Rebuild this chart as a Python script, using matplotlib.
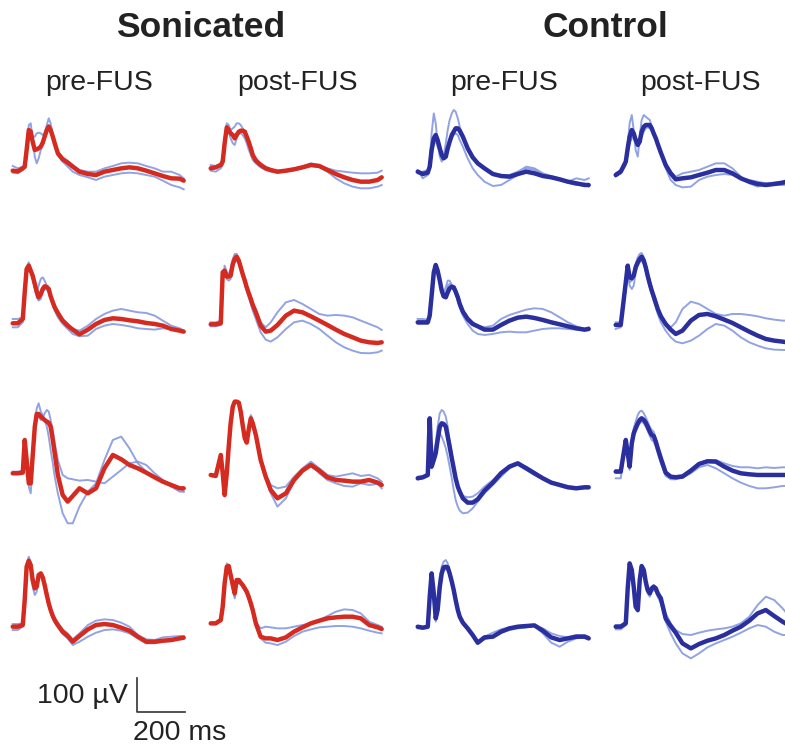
import numpy as np
import matplotlib
matplotlib.use("Agg")
import matplotlib.pyplot as plt

# ---------------- data (time in ms, amplitude in µV) ----------------
t_ms = [0, 21, 42, 50, 58, 67, 75, 83, 92, 100, 108, 117, 125, 133, 142, 150, 158, 167, 175, 188,
        208, 229, 250, 278, 313, 347, 382, 417, 452, 486, 521, 556, 591, 625, 660, 695, 712]

group_titles = ["Sonicated", "Control"]
column_labels = ["pre-FUS", "post-FUS", "pre-FUS", "post-FUS"]
scale_uv = 100
scale_ms = 200

# Row 1
sp1_mean = [-2,-4,5,10,60,120,115,85,60,62,65,70,82,100,120,130,120,100,80,50,32,22,10,-5,-12,-15,-5,0,5,8,5,-2,-10,-18,-25,-26,-32]
sp1_a = [-8,-10,0,15,70,135,140,95,40,20,35,60,80,110,135,155,140,105,80,45,25,10,-5,-15,-22,-30,-20,-15,-10,-8,-10,-15,-20,-32,-45,-52,-58]
sp1_b = [12,5,10,15,55,100,110,100,100,110,112,110,105,110,125,135,120,100,80,55,38,28,15,0,-5,-5,5,12,20,22,20,12,5,-5,-5,-15,-25]
so1_mean = [5,8,15,25,80,128,120,110,105,95,105,115,118,118,115,100,85,65,45,28,15,5,0,-5,-2,2,8,15,12,0,-12,-22,-30,-35,-35,-30,-22]
so1_a = [15,12,20,40,100,140,135,120,125,130,140,140,135,125,115,100,80,60,45,35,20,10,2,-3,0,5,10,20,15,5,-2,-5,-8,-10,-10,-8,-2]
so1_b = [-2,-5,5,15,60,120,115,95,80,75,95,110,110,105,95,80,62,45,30,20,8,0,-5,-8,-5,0,5,12,10,-5,-25,-40,-50,-55,-55,-50,-45]
cp1_mean = [-5,-12,-8,10,60,95,105,90,65,45,35,40,65,85,105,115,125,125,118,100,65,38,20,5,-12,-18,-20,-12,-5,-10,-18,-22,-28,-35,-40,-45,-45]
cp1_a = [0,-25,-15,20,110,170,140,80,40,25,40,80,120,150,170,180,175,155,130,100,60,35,20,5,-10,-15,-15,-5,10,5,-10,-18,-25,-35,-25,-30,-25]
cp1_b = [-10,-5,0,10,50,80,85,70,55,45,40,50,65,80,95,105,110,105,90,70,35,5,-15,-35,-48,-45,-30,-15,5,0,-15,-20,-30,-38,-45,-40,-50]
co1_mean = [-15,-5,25,65,100,120,110,90,75,85,115,130,135,135,135,125,110,95,78,52,15,-10,-28,-25,-22,-15,-8,0,0,-10,-25,-35,-42,-45,-42,-38,-35]
co1_a = [-10,0,30,80,140,165,120,60,40,100,150,165,160,155,150,130,115,95,80,55,20,-5,-20,-10,-5,0,10,20,20,5,-20,-40,-50,-40,-38,-35,-30]
co1_b = [-20,-10,15,50,80,95,100,95,90,85,100,115,125,128,125,118,105,90,75,50,5,-30,-45,-52,-50,-30,-20,-15,-12,-15,-25,-30,-35,-40,-45,-45,-45]

# Row 2
sp2_mean = [-3,-3,10,90,160,170,155,140,115,92,75,85,100,108,106,100,78,60,45,28,5,-10,-22,-36,-22,-5,7,12,10,6,3,-2,-5,-10,-20,-25,-28]
sp2_a = [10,10,15,95,165,180,160,135,105,90,110,130,135,125,110,95,75,58,45,30,10,-5,-20,-25,-10,10,25,35,40,35,30,28,20,5,-10,-18,-25]
sp2_b = [-15,-15,0,80,150,165,150,130,100,75,65,70,90,100,98,90,70,50,35,15,-5,-20,-35,-42,-40,-20,-10,-5,-8,-12,-18,-20,-22,-18,-20,-22,-25]
so2_mean = [-6,-6,-3,150,155,137,137,140,175,190,197,185,165,145,125,105,88,70,52,30,-10,-28,-25,-8,20,35,30,18,5,-8,-22,-35,-45,-55,-60,-62,-60]
so2_a = [0,0,5,120,170,150,145,160,190,205,205,190,170,150,128,110,92,75,58,38,0,-15,0,30,60,67,55,40,25,20,22,20,15,5,-5,-15,-23]
so2_b = [-12,-12,-8,130,160,130,125,130,165,180,185,175,158,138,115,95,75,55,35,10,-30,-52,-58,-45,-20,0,5,-5,-20,-40,-60,-75,-85,-92,-93,-90,-85]
cp2_mean = [0,0,0,20,80,150,172,155,125,95,78,75,90,102,107,105,92,75,55,32,10,-5,-12,-22,-22,-8,5,14,17,13,7,0,-6,-12,-18,-22,-20]
cp2_a = [10,10,8,25,85,145,165,150,125,100,90,105,125,125,112,100,85,70,55,35,15,0,-10,-15,-10,10,22,30,38,42,40,30,15,0,-12,-20,-15]
cp2_b = [-5,-5,-5,15,70,145,170,150,120,95,80,85,110,115,108,100,85,65,45,20,-5,-25,-35,-38,-35,-30,-28,-30,-30,-25,-20,-18,-18,-20,-22,-25,-22]
co2_mean = [-8,-8,120,170,135,132,140,165,180,190,197,185,165,140,115,95,78,58,40,18,-5,-22,-35,-25,5,22,25,18,8,-2,-15,-28,-40,-50,-55,-58,-60]
co2_a = [0,0,110,160,120,125,145,175,195,205,208,195,175,150,125,105,85,65,45,20,-5,-15,0,40,62,55,40,25,20,25,25,22,18,12,8,5,5]
co2_b = [-20,-15,100,150,110,100,110,150,170,180,185,175,155,130,105,85,65,45,25,0,-25,-45,-58,-63,-55,-40,-20,-5,-10,-25,-45,-60,-70,-78,-82,-83,-83]

# Row 3
sp3_mean = [0,0,2,100,40,-30,-30,50,140,178,178,170,165,160,155,152,140,100,60,-5,-65,-85,-68,-45,-60,-45,15,55,42,25,15,2,-12,-25,-35,-45,-45]
sp3_a = [0,0,5,80,20,-40,-60,20,150,195,210,185,175,160,140,110,70,30,-10,-60,-120,-150,-150,-100,-55,-30,40,100,110,75,30,5,-10,-25,-40,-55,-55]
sp3_b = [5,5,8,90,30,-20,-25,60,140,165,170,160,165,180,190,185,160,130,90,40,-5,-15,-18,-22,-20,-25,-30,-10,10,30,35,25,0,-20,-35,-45,-55]
so3_mean = [-5,-8,55,0,-65,0,80,150,200,215,215,212,185,145,105,92,130,165,150,115,40,-10,-50,-75,-60,-20,8,25,8,-12,-20,-22,-25,-25,-20,-28,-35]
so3_a = [-2,-5,50,0,-70,-5,75,145,195,212,212,208,180,140,110,100,140,175,160,120,45,-15,-60,-100,-75,-25,5,25,0,-20,-30,-38,-40,-30,-35,-32,-45]
so3_b = [-8,-10,50,-5,-65,0,80,150,200,215,215,210,190,150,105,95,125,160,145,105,40,-5,-35,-45,-40,-10,15,35,15,-5,-10,-5,0,-8,-5,-15,-25]
cp3_mean = [-15,-12,-5,165,20,40,60,100,140,150,148,140,110,80,45,15,-15,-40,-55,-75,-88,-88,-78,-52,-28,0,20,30,15,0,-15,-28,-35,-42,-45,-42,-42]
cp3_a = [-10,-10,0,150,30,60,90,140,180,190,185,170,140,100,60,20,-20,-45,-60,-68,-72,-70,-60,-40,-20,5,20,25,10,-5,-18,-25,-32,-38,-42,-40,-40]
cp3_b = [-18,-15,-8,140,15,30,60,100,120,110,95,75,50,20,-15,-50,-80,-100,-112,-120,-118,-105,-85,-60,-35,-10,15,28,20,5,-12,-25,-35,-42,-48,-45,-45]
co3_mean = [5,5,100,60,20,90,120,135,150,160,165,160,152,140,125,115,112,95,75,45,2,-10,-12,-10,8,28,36,35,20,8,0,-3,-5,-5,-5,-5,-5]
co3_a = [10,10,95,55,25,100,135,155,175,185,188,180,168,155,140,130,125,105,80,48,5,-8,-8,-5,12,30,40,40,30,22,18,18,15,18,16,18,18]
co3_b = [-15,-15,90,50,10,80,110,125,140,150,155,150,140,128,112,100,95,80,60,30,-8,-18,-18,-12,0,18,25,15,0,-15,-28,-38,-45,-45,-42,-38,-38]

# Row 4
sp4_mean = [0,0,5,80,180,198,185,140,115,120,155,160,148,125,95,70,50,32,20,5,-15,-28,-45,-28,-8,5,8,5,-3,-12,-30,-45,-45,-42,-40,-35,-33]
sp4_a = [8,8,10,90,190,210,190,150,135,125,150,155,145,125,100,75,55,38,25,10,-8,-20,-38,-20,5,18,22,20,12,0,-25,-38,-40,-32,-30,-28,-28]
sp4_b = [-10,-10,0,70,170,190,170,120,95,105,145,152,140,118,88,62,42,25,12,-2,-22,-35,-55,-45,-30,-18,-10,-8,-12,-20,-35,-50,-50,-45,-42,-38,-35]
so4_mean = [10,10,20,60,130,180,182,155,125,100,140,140,132,125,115,105,90,70,50,10,-30,-35,-35,-40,-32,-15,-2,10,18,25,28,30,30,25,5,-2,-7]
so4_a = [8,8,18,70,140,190,185,150,115,90,130,138,135,130,118,108,95,75,55,15,-5,0,-2,-5,-5,0,5,10,20,32,45,52,50,40,15,5,0]
so4_b = [12,12,22,55,120,172,175,145,110,85,125,132,128,118,108,98,82,62,42,5,-35,-48,-50,-55,-45,-28,-15,-8,-2,0,2,2,0,-5,-12,-18,-20]
cp4_mean = [0,-3,0,90,160,100,25,50,120,160,178,180,178,160,135,110,80,50,30,12,-5,-25,-48,-32,-30,-15,-5,0,2,4,-12,-32,-40,-35,-30,-30,-35]
cp4_a = [-2,-2,5,85,150,120,60,90,150,180,195,200,190,165,138,110,80,52,32,14,-5,-25,-45,-30,-18,-8,-2,2,5,5,-5,-20,-28,-32,-25,-25,-30]
cp4_b = [-5,-6,-3,80,150,90,15,40,110,150,170,172,170,155,130,105,75,45,25,8,-10,-30,-52,-38,-30,-18,-10,-5,-2,2,-20,-48,-60,-45,-35,-32,-38]
co4_mean = [0,0,10,115,190,170,120,60,50,140,182,170,135,110,100,115,120,115,100,85,25,2,-18,-50,-65,-52,-42,-35,-25,-12,0,18,40,50,32,15,8]
co4_a = [5,5,15,110,185,165,115,65,60,145,185,175,140,115,105,118,125,118,105,88,40,10,-10,-22,-25,-18,-12,-8,-5,0,10,30,65,90,80,55,40]
co4_b = [-8,-8,5,100,175,160,110,55,45,130,172,160,128,100,90,105,110,105,90,70,15,-20,-50,-80,-95,-80,-62,-50,-40,-30,-18,-5,5,0,-15,-25,-25]

panels = [
    [(sp1_mean, sp1_a, sp1_b), (so1_mean, so1_a, so1_b), (cp1_mean, cp1_a, cp1_b), (co1_mean, co1_a, co1_b)],
    [(sp2_mean, sp2_a, sp2_b), (so2_mean, so2_a, so2_b), (cp2_mean, cp2_a, cp2_b), (co2_mean, co2_a, co2_b)],
    [(sp3_mean, sp3_a, sp3_b), (so3_mean, so3_a, so3_b), (cp3_mean, cp3_a, cp3_b), (co3_mean, co3_a, co3_b)],
    [(sp4_mean, sp4_a, sp4_b), (so4_mean, so4_a, so4_b), (cp4_mean, cp4_a, cp4_b), (co4_mean, co4_a, co4_b)],
]

# ---------------- layout / style ----------------
W, H = 785, 748
plt.rcParams['font.family'] = ['Liberation Sans', 'DejaVu Sans']
fig = plt.figure(figsize=(W / 100, H / 100), dpi=100)
fig.patch.set_facecolor('white')

UV_PER_PX = 3.0
PANEL_W = 171.0
T_MAX = 712.0
BELOW_PX, ABOVE_PX = 60, 82

col_x0 = [12.7, 210.7, 417.7, 615.7]
row_y0 = [170.0, 322.3, 473.3, 626.7]
mean_colors = ['#D52A1F', '#D52A1F', '#2B2F9E', '#2B2F9E']
thin_color = '#7F93DD'


def make_axes(x0, y0):
    ax = fig.add_axes([x0 / W, 1 - (y0 + BELOW_PX) / H, PANEL_W / W, (BELOW_PX + ABOVE_PX) / H])
    ax.set_xlim(0, T_MAX)
    ax.set_ylim(-BELOW_PX * UV_PER_PX, ABOVE_PX * UV_PER_PX)
    ax.axis('off')
    ax.patch.set_alpha(0)
    return ax


t = np.array(t_ms, dtype=float)
for r in range(4):
    for c in range(4):
        ax = make_axes(col_x0[c], row_y0[r])
        mean, a, b = panels[r][c]
        for thin in (a, b):
            ax.plot(t, thin, color=thin_color, lw=1.4, alpha=0.85, solid_joinstyle='round', clip_on=False)
        ax.plot(t, mean, color=mean_colors[c], lw=3.2, solid_joinstyle='round',
                solid_capstyle='round', clip_on=False)

# scale bar
sax = make_axes(136.5, 711.7)
sax.plot([0, 0, scale_ms], [scale_uv, 0, 0], color='#333333', lw=1.2, clip_on=False)

# texts
txt = '#222222'
fig.text(200.5 / W, 1 - 37 / H, group_titles[0], ha='center', va='baseline',
         fontsize=25.5, fontweight='bold', color=txt)
fig.text(605 / W, 1 - 37 / H, group_titles[1], ha='center', va='baseline',
         fontsize=25.5, fontweight='bold', color=txt)
for xc, lab in zip([99, 297, 504, 700], column_labels):
    fig.text(xc / W, 1 - 90 / H, lab, ha='center', va='baseline', fontsize=20.5, color=txt)

fig.text(128 / W, 1 - 703 / H, f"{scale_uv} µV", ha='right', va='baseline', fontsize=20.5, color=txt)
fig.text(133 / W, 1 - 740 / H, f"{scale_ms} ms", ha='left', va='baseline', fontsize=20.5, color=txt)

fig.savefig('out.png', dpi=100, facecolor='white')
